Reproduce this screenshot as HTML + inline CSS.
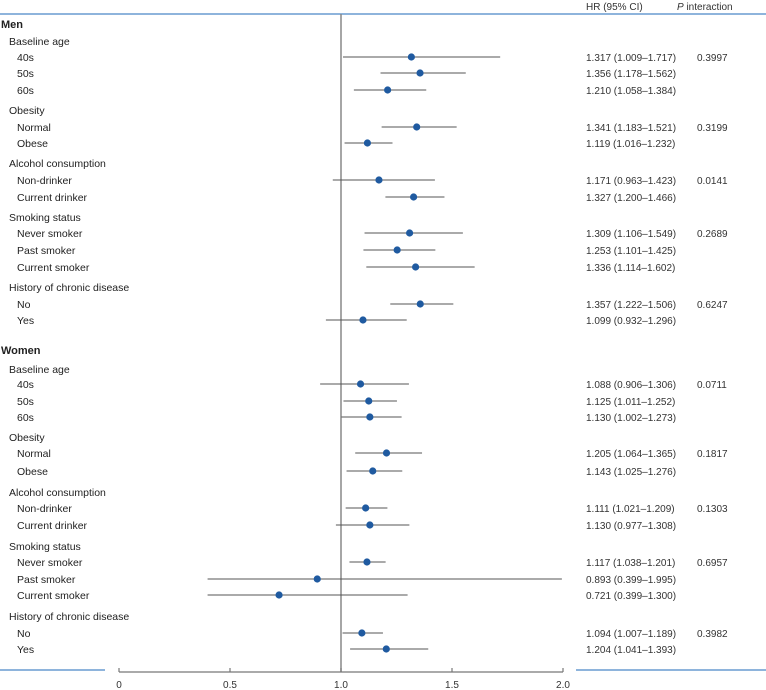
<!DOCTYPE html>
<html><head><meta charset="utf-8"><style>
html,body{margin:0;padding:0;background:#fff;}
svg{display:block;font-family:"Liberation Sans",sans-serif;}
</style></head><body>
<svg id="chart" width="766" height="690" viewBox="0 0 766 690" xmlns="http://www.w3.org/2000/svg">
<g id="g"></g>
</svg>
<script>
const labels = ["Men","Baseline age","40s","50s","60s","Obesity","Normal","Obese","Alcohol consumption","Non-drinker","Current drinker","Smoking status","Never smoker","Past smoker","Current smoker","History of chronic disease","No","Yes",
"Women","Baseline age","40s","50s","60s","Obesity","Normal","Obese","Alcohol consumption","Non-drinker","Current drinker","Smoking status","Never smoker","Past smoker","Current smoker","History of chronic disease","No","Yes"];
const levels = [0,1,2,2,2,1,2,2,1,2,2,1,2,2,2,1,2,2, 0,1,2,2,2,1,2,2,1,2,2,1,2,2,2,1,2,2];
const rowY = [24,41,57,73,90,110,127,143,163,180,197,217,233,250,267,287,304,320, 350,369,384,401,417,437,453,471,492,508,525,546,562,579,595,616,633,649];
const hr = [null,null,1.317,1.356,1.210,null,1.341,1.119,null,1.171,1.327,null,1.309,1.253,1.336,null,1.357,1.099,
null,null,1.088,1.125,1.130,null,1.205,1.143,null,1.111,1.130,null,1.117,0.893,0.721,null,1.094,1.204];
const lo = [null,null,1.009,1.178,1.058,null,1.183,1.016,null,0.963,1.200,null,1.106,1.101,1.114,null,1.222,0.932,
null,null,0.906,1.011,1.002,null,1.064,1.025,null,1.021,0.977,null,1.038,0.399,0.399,null,1.007,1.041];
const hi = [null,null,1.717,1.562,1.384,null,1.521,1.232,null,1.423,1.466,null,1.549,1.425,1.602,null,1.506,1.296,
null,null,1.306,1.252,1.273,null,1.365,1.276,null,1.209,1.308,null,1.201,1.995,1.300,null,1.189,1.393];
const pint = ["","","0.3997","","","","0.3199","","","0.0141","","","0.2689","","","","0.6247","",
"","","0.0711","","","","0.1817","","","0.1303","","","0.6957","","","","0.3982",""];
const ticks = [0,0.5,1.0,1.5,2.0];
const tickLabels = ["0","0.5","1.0","1.5","2.0"];

const NS="http://www.w3.org/2000/svg";
const g=document.getElementById('g');
const x=v=>119+(v-0)/(2-0)*444;
function mk(t,a,txt){const e=document.createElementNS(NS,t);for(const k in a)e.setAttribute(k,a[k]);if(txt!=null)e.textContent=txt;g.appendChild(e);return e;}

let e;
e=mk('line',{x1:0,y1:14,x2:766,y2:14,stroke:'#4a86c8','stroke-width':1.3});


e=mk('text',{x:586,y:10,'font-size':10,fill:'#333'},'HR (95% CI)');


e=mk('text',{x:677,y:10,'font-size':10,fill:'#333'});
e.innerHTML='<tspan font-style="italic">P</tspan> interaction';



e=mk('line',{x1:x(1),y1:14,x2:x(1),y2:672,stroke:'#888','stroke-width':1.5});



labels.forEach((l,i)=>{
  const t=mk('text',{x:[1,9,17][levels[i]],y:rowY[i]+4,'font-size':levels[i]==0?11:10.5,'font-weight':levels[i]==0?'bold':'normal',fill:'#222'},l);
  
  
  if(hr[i]!=null){
    const ln=mk('line',{x1:x(lo[i]),y1:rowY[i],x2:x(hi[i]),y2:rowY[i],stroke:'#555','stroke-width':1});
    
    
    const c=mk('circle',{cx:x(hr[i]),cy:rowY[i],r:3.6,fill:'#1f5aa0'});
    
    
    const v=mk('text',{x:586,y:rowY[i]+4,'font-size':10,fill:'#333'},hr[i].toFixed(3)+' ('+lo[i].toFixed(3)+'–'+hi[i].toFixed(3)+')');
    
    
  }
  if(pint[i]){
    const p=mk('text',{x:697,y:rowY[i]+4,'font-size':10,fill:'#333'},pint[i]);
    
    
  }
});

e=mk('line',{x1:0,y1:670,x2:105,y2:670,stroke:'#4a86c8','stroke-width':1.3});


e=mk('line',{x1:576,y1:670,x2:766,y2:670,stroke:'#4a86c8','stroke-width':1.3});


e=mk('line',{x1:x(0),y1:672,x2:x(2),y2:672,stroke:'#777','stroke-width':1.2});


ticks.forEach((t,i)=>{
  const tk=mk('line',{x1:x(t),y1:668,x2:x(t),y2:672,stroke:'#777','stroke-width':1.2});
  
  
  const tl=mk('text',{x:x(t),y:688,'font-size':10,fill:'#333','text-anchor':'middle'},tickLabels[i]);
  
  
});
</script>
</body></html>
